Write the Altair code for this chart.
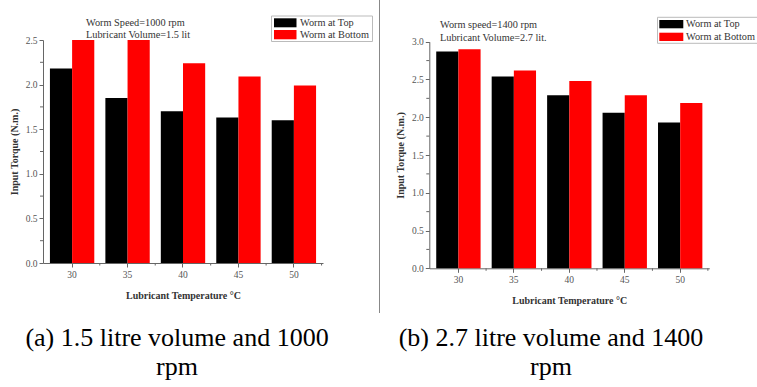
import altair as alt
import pandas as pd

# ---------------- data ----------------
temps = ["30", "35", "40", "45", "50"]
series = ["Worm at Top", "Worm at Bottom"]
colors = ["#000000", "#ff0000"]

top_a = [2.18, 1.85, 1.70, 1.63, 1.60]
bottom_a = [2.50, 2.50, 2.24, 2.09, 1.99]
top_b = [2.87, 2.54, 2.29, 2.06, 1.93]
bottom_b = [2.90, 2.62, 2.48, 2.29, 2.19]

yticks_a = [0.0, 0.5, 1.0, 1.5, 2.0, 2.5]
yticks_b = [0.0, 0.5, 1.0, 1.5, 2.0, 2.5, 3.0]
minor_a = [0.25, 0.75, 1.25, 1.75, 2.25]
minor_b = [0.25, 0.75, 1.25, 1.75, 2.25, 2.75]

notes_a = ["Worm Speed=1000 rpm", "Lubricant Volume=1.5 lit"]
notes_b = ["Worm speed=1400 rpm", "Lubricant Volume=2.7 lit."]
caption_a = ["(a) 1.5 litre volume and 1000", "rpm"]
caption_b = ["(b) 2.7 litre volume and 1400", "rpm"]

x_title = "Lubricant Temperature °C"
y_title = "Input Torque (N.m.)"

W, H = 757, 387
SERIF = "Liberation Serif, Times New Roman, DejaVu Serif, serif"
AX = "#666666"


def panel(top, bottom, ydom, yticks, minor, xr, yr, notes, note_pos, note_lh,
          leg_box, leg_sw, leg_rows, leg_lx):
    df = pd.DataFrame({
        "temp": temps * 2,
        "series": [s for s in series for _ in temps],
        "torque": top + bottom,
    })
    xscale = alt.Scale(domain=temps, range=xr, paddingInner=0.2, paddingOuter=0.125)
    xaxis = alt.Axis(orient="bottom", offset=-(H - yr[0]), title=x_title,
                     labelAngle=0, tickSize=4, labelPadding=2, titlePadding=12)
    yscale = alt.Scale(domain=ydom, range=yr, nice=False, zero=True)
    yaxis = alt.Axis(orient="left", offset=-xr[0], values=yticks, format=".1f",
                     title=y_title, tickSize=4, labelPadding=2, titlePadding=6)
    bars = alt.Chart(df).mark_bar().encode(
        x=alt.X("temp:N", sort=temps, scale=xscale, axis=xaxis),
        xOffset=alt.XOffset("series:N", sort=series,
                            scale=alt.Scale(domain=series, paddingInner=0, paddingOuter=0)),
        y=alt.Y("torque:Q", scale=yscale, axis=yaxis),
        color=alt.Color("series:N", scale=alt.Scale(domain=series, range=colors), legend=None),
    )
    minor_y = alt.Chart(pd.DataFrame({"torque": minor})).mark_rule(
        color=AX, strokeWidth=1).encode(
        y=alt.Y("torque:Q", scale=yscale, axis=yaxis),
        x=alt.value(xr[0] - 3), x2=alt.value(xr[0]),
    )
    minor_x = alt.Chart(pd.DataFrame({"temp": temps})).mark_rule(
        color=AX, strokeWidth=1, xOffset=5.5).encode(
        x=alt.X("temp:N", sort=temps, scale=xscale, axis=xaxis, bandPosition=1),
        y=alt.value(yr[0]), y2=alt.value(yr[0] + 2.5),
    )
    note = alt.Chart(pd.DataFrame({"t": ["\n".join(notes)]})).mark_text(
        align="left", baseline="alphabetic", font=SERIF, fontSize=10.3, color="#333333",
        lineBreak="\n", lineHeight=note_lh).encode(
        text="t:N", x=alt.value(note_pos[0]), y=alt.value(note_pos[1]))
    box = alt.Chart(pd.DataFrame({"b": [0]})).mark_rect(
        fill="white", stroke="#bbbbbb", strokeWidth=1).encode(
        x=alt.value(leg_box[0]), x2=alt.value(leg_box[1]),
        y=alt.value(leg_box[2]), y2=alt.value(leg_box[3]))
    layers = [bars, minor_y, minor_x, note, box]
    for i, s in enumerate(series):
        r0, r1 = leg_rows[i]
        sw = alt.Chart(pd.DataFrame({"series": [s]})).mark_rect(color=colors[i]).encode(
            x=alt.value(leg_sw[0]), x2=alt.value(leg_sw[1]),
            y=alt.value(r0), y2=alt.value(r1))
        lab = alt.Chart(pd.DataFrame({"series": [s]})).mark_text(
            align="left", baseline="middle", font=SERIF, fontSize=10.3, color="#333333").encode(
            text="series:N", x=alt.value(leg_lx), y=alt.value((r0 + r1) / 2))
        layers += [sw, lab]
    return alt.layer(*layers)


left = panel(top_a, bottom_a, [0, 2.5], yticks_a, minor_a,
             xr=[43, 323], yr=[263, 40],
             notes=notes_a, note_pos=(86, 26), note_lh=11.7,
             leg_box=(271.5, 372.5, 16, 41.5), leg_sw=(274, 296.5),
             leg_rows=[(18.3, 27.3), (30, 39.3)], leg_lx=300)

right = panel(top_b, bottom_b, [0, 3.0], yticks_b, minor_b,
              xr=[429.3, 709.3], yr=[268.3, 41.7],
              notes=notes_b, note_pos=(440, 27.5), note_lh=13,
              leg_box=(657.5, 760, 17.3, 43.3), leg_sw=(659.3, 683.3),
              leg_rows=[(20, 28.3), (32.7, 41)], leg_lx=686)

sep = alt.Chart(pd.DataFrame({"s": [0]})).mark_rule(color="#888888", strokeWidth=1).encode(
    x=alt.value(379.5), y=alt.value(0), y2=alt.value(313))


def caption(lines, cx):
    return alt.Chart(pd.DataFrame({"c": ["\n".join(lines)]})).mark_text(
        align="center", baseline="alphabetic", font=SERIF, fontSize=26, color="#000000",
        lineBreak="\n", lineHeight=29).encode(
        text="c:N", x=alt.value(cx), y=alt.value(346))


chart = alt.layer(left, right, sep, caption(caption_a, 177), caption(caption_b, 551)).resolve_scale(
    x="independent", y="independent", xOffset="independent"
).properties(
    width=W, height=H, padding=0, autosize=alt.AutoSizeParams(type="none")
).configure_view(stroke=None).configure_axis(
    labelFont=SERIF, labelFontSize=9.5, labelColor="#555555",
    titleFont=SERIF, titleFontSize=10, titleFontWeight="bold", titleColor="#333333",
    domainColor=AX, tickColor=AX, grid=False,
)

chart.save("out.html", embed_options={"renderer": "svg", "actions": False})
